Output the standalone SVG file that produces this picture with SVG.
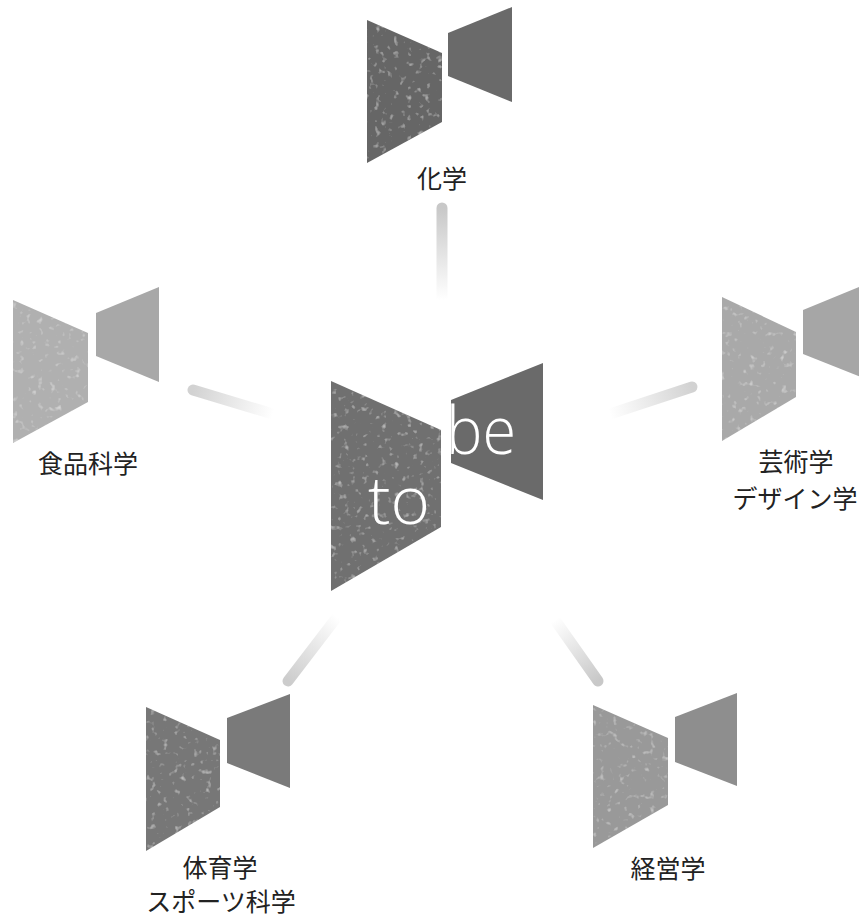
<svg xmlns="http://www.w3.org/2000/svg" width="859" height="923" viewBox="0 0 859 923">
<style>
.lbl{font-family:"Noto Sans CJK JP","Noto Sans CJK SC",sans-serif;font-size:25px;fill:#222;text-anchor:middle}
.big{font-family:"Open Sans","Lato",sans-serif;font-weight:300;font-size:66px;fill:#fff}
.con{fill:none;stroke-width:11;stroke-linecap:round}
</style>
<defs>
<filter id="tex" x="0" y="0" width="100%" height="100%">
<feTurbulence type="fractalNoise" baseFrequency="0.16" numOctaves="2" seed="4" result="n"/>
<feColorMatrix in="n" type="matrix" values="0 0 0 0 1 0 0 0 0 1 0 0 0 0 1 1.4 0 0 0 -0.86" result="sp"/>
<feComposite in="sp" in2="SourceGraphic" operator="in" result="sp2"/>
<feMerge><feMergeNode in="SourceGraphic"/><feMergeNode in="sp2"/></feMerge>
</filter>
<linearGradient id="gT" gradientUnits="userSpaceOnUse" x1="442" y1="208" x2="442" y2="300"><stop offset="0" stop-color="#c8c8c8"/><stop offset="1" stop-color="#ffffff"/></linearGradient>
<linearGradient id="gL" gradientUnits="userSpaceOnUse" x1="193" y1="390" x2="273" y2="414"><stop offset="0" stop-color="#d2d2d2"/><stop offset="1" stop-color="#ffffff"/></linearGradient>
<linearGradient id="gR" gradientUnits="userSpaceOnUse" x1="692" y1="387" x2="610" y2="414"><stop offset="0" stop-color="#d2d2d2"/><stop offset="1" stop-color="#ffffff"/></linearGradient>
<linearGradient id="gBL" gradientUnits="userSpaceOnUse" x1="288" y1="681" x2="337" y2="617"><stop offset="0" stop-color="#cccccc"/><stop offset="1" stop-color="#ffffff"/></linearGradient>
<linearGradient id="gBR" gradientUnits="userSpaceOnUse" x1="598" y1="681" x2="555" y2="620"><stop offset="0" stop-color="#c8c8c8"/><stop offset="1" stop-color="#ffffff"/></linearGradient>
</defs>
<rect width="859" height="923" fill="#fff"/>
<g id="connectors">
<line class="con" x1="442" y1="208" x2="442" y2="300" stroke="url(#gT)"/>
<line class="con" x1="193" y1="390" x2="273" y2="414" stroke="url(#gL)"/>
<line class="con" x1="692" y1="387" x2="610" y2="414" stroke="url(#gR)"/>
<line class="con" x1="288" y1="681" x2="337" y2="617" stroke="url(#gBL)"/>
<line class="con" x1="598" y1="681" x2="555" y2="620" stroke="url(#gBR)"/>
</g>
<g id="node-center">
<polygon fill="#707070" filter="url(#tex)" points="331,381 441,430 441,527 331,591"/>
<polygon fill="#6a6a6a" points="451,400 543,363 543,500 451,463"/>
<text class="big" x="446" y="454" textLength="70" lengthAdjust="spacingAndGlyphs">be</text>
<text class="big" x="368" y="524" textLength="62" lengthAdjust="spacingAndGlyphs">to</text>
</g>
<g id="node-chemistry">
<polygon fill="#666666" filter="url(#tex)" points="367,20 442,53 442,122 367,163"/>
<polygon fill="#6a6a6a" points="448,33 512,7 512,102 448,76"/>
<text class="lbl" x="442" y="188">化学</text>
</g>
<g id="node-food">
<polygon fill="#b0b0b0" filter="url(#tex)" points="13,300 88,333 88,402 13,443"/>
<polygon fill="#a8a8a8" points="96,313 159,287 159,382 96,356"/>
<text class="lbl" x="88" y="473">食品科学</text>
</g>
<g id="node-art">
<polygon fill="#a9a9a9" filter="url(#tex)" points="722,297 796,332 796,397 722,441"/>
<polygon fill="#a6a6a6" points="803,310 866,284 866,379 803,354"/>
<text class="lbl" x="796" y="471">芸術学</text>
<text class="lbl" x="795" y="508">デザイン学</text>
</g>
<g id="node-sports">
<polygon fill="#777777" filter="url(#tex)" points="146,707 220,740 220,807 146,851"/>
<polygon fill="#7a7a7a" points="227,718 290,694 290,788 227,763"/>
<text class="lbl" x="220" y="877">体育学</text>
<text class="lbl" x="221" y="911">スポーツ科学</text>
</g>
<g id="node-management">
<polygon fill="#999999" filter="url(#tex)" points="593,705 668,738 668,805 593,848"/>
<polygon fill="#8e8e8e" points="675,717 737,693 737,786 675,762"/>
<text class="lbl" x="668" y="878">経営学</text>
</g>
</svg>
